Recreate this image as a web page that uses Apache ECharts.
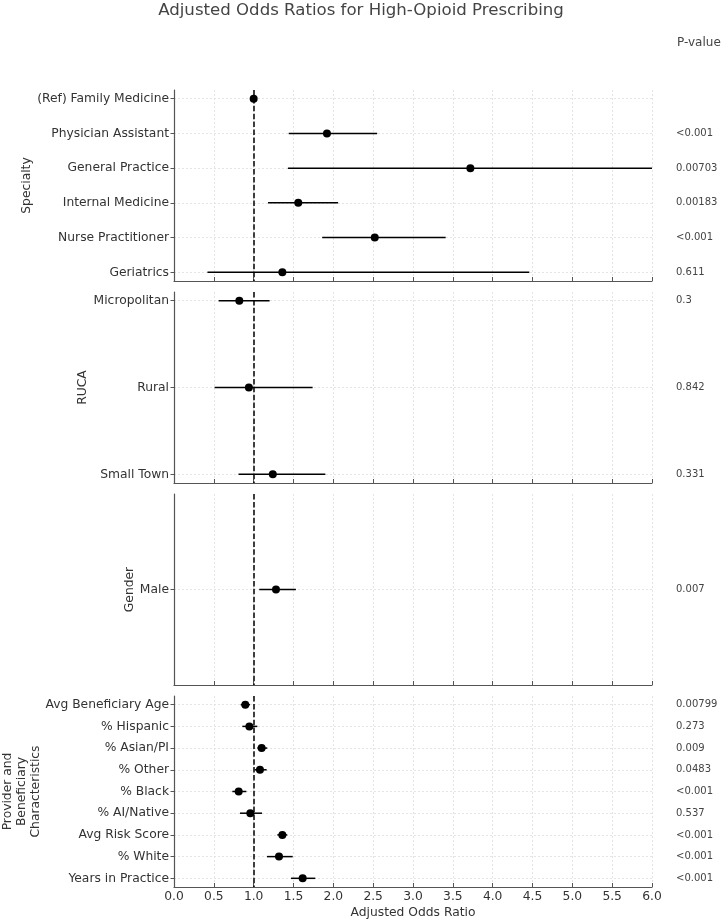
<!DOCTYPE html>
<html>
<head>
<meta charset="utf-8">
<script src="https://cdn.jsdelivr.net/npm/echarts@6/dist/echarts.min.js"></script>
<style>
  html, body { margin: 0; padding: 0; background: #fff; }
  #main { width: 722px; height: 920px; }
</style>
</head>
<body>
<div id="main"></div>
<script>
// panel 1 - specialty
const specialtyCats = ['(Ref) Family Medicine', 'Physician Assistant', 'General Practice', 'Internal Medicine', 'Nurse Practitioner', 'Geriatrics'];
const specialtyOR = [1.0, 1.92, 3.72, 1.56, 2.52, 1.36];
const specialtyLo = [1.0, 1.44, 1.43, 1.18, 1.86, 0.42];
const specialtyHi = [1.0, 2.55, 6.0, 2.06, 3.41, 4.46];
const specialtyP = ['', '<0.001', '0.00703', '0.00183', '<0.001', '0.611'];

// panel 2 - RUCA
const rucaCats = ['Micropolitan', 'Rural', 'Small Town'];
const rucaOR = [0.82, 0.94, 1.24];
const rucaLo = [0.56, 0.51, 0.81];
const rucaHi = [1.20, 1.74, 1.90];
const rucaP = ['0.3', '0.842', '0.331'];

// panel 3 - gender
const genderCats = ['Male'];
const genderOR = [1.28];
const genderLo = [1.07];
const genderHi = [1.53];
const genderP = ['0.007'];

// panel 4 - provider and beneficiary
const provCats = ['Avg Beneficiary Age', '% Hispanic', '% Asian/PI', '% Other', '% Black', '% AI/Native', 'Avg Risk Score', '% White', 'Years in Practice'];
const provOR = [0.895, 0.946, 1.10, 1.079, 0.812, 0.958, 1.36, 1.318, 1.615];
const provLo = [0.837, 0.858, 1.046, 1.013, 0.732, 0.828, 1.297, 1.167, 1.469];
const provHi = [0.954, 1.046, 1.171, 1.163, 0.908, 1.105, 1.422, 1.49, 1.774];
const provP = ['0.00799', '0.273', '0.009', '0.0483', '<0.001', '0.537', '<0.001', '<0.001', '<0.001'];

const xTicks = [0, 6, 0.5]; // min, max, step

const panels = [
  { cats: specialtyCats, or: specialtyOR, lo: specialtyLo, hi: specialtyHi, p: specialtyP, name: 'Specialty', gap: 140 },
  { cats: rucaCats, or: rucaOR, lo: rucaLo, hi: rucaHi, p: rucaP, name: 'RUCA', gap: 84 },
  { cats: genderCats, or: genderOR, lo: genderLo, hi: genderHi, p: genderP, name: 'Gender', gap: 37 },
  { cats: provCats, or: provOR, lo: provLo, hi: provHi, p: provP, name: 'Provider and\nBeneficiary\nCharacteristics', gap: 131 }
];

const FONT = 'DejaVu Sans';
const LBL = 12.3;
const spine = '#555555';
const gridLine = { color: '#dddddd', type: [2, 2], width: 0.8 };
const panelTop = [90, 292, 494, 696];
const panelH = 191;

const grids = [], xAxes = [], yAxes = [], series = [];

panels.forEach(function (pn, k) {
  const n = pn.cats.length;
  const idx = pn.cats.map(function (c, i) { return i; });
  // 5% padding like the original plot
  const pad = n === 1 ? 1 : 0.05 * (n - 1);
  const ymin = -pad;
  const ymax = n - 1 + pad;

  grids.push({ left: 174, right: 70, top: panelTop[k], height: panelH, outerBoundsMode: 'none' });

  xAxes.push({
    gridIndex: k, type: 'value', min: xTicks[0], max: xTicks[1], interval: xTicks[2],
    axisLine: { show: true, onZero: false, lineStyle: { color: spine, width: 1.2 } },
    axisTick: { show: true, inside: true, length: 4, lineStyle: { color: spine } },
    axisLabel: { show: k === 3, color: '#333', fontSize: LBL, fontFamily: FONT, margin: 4,
      formatter: function (v) { return v.toFixed(1); } },
    splitLine: { show: true, lineStyle: gridLine },
    name: k === 3 ? 'Adjusted Odds Ratio' : '',
    nameLocation: 'middle', nameGap: 20, nameMoveOverlap: false,
    nameTextStyle: { color: '#333', fontSize: LBL, fontFamily: FONT }
  });

  // left axis: category names
  yAxes.push({
    gridIndex: k, type: 'value', inverse: true, min: ymin, max: ymax,
    axisLine: { show: true, onZero: false, lineStyle: { color: spine, width: 1.2 } },
    axisTick: { show: true, inside: false, length: 3.5, customValues: idx, lineStyle: { color: spine } },
    axisLabel: { customValues: idx, color: '#333', fontSize: LBL, fontFamily: FONT, margin: 5,
      formatter: function (v) { return pn.cats[Math.round(v)]; } },
    splitLine: { show: true, lineStyle: gridLine },
    name: pn.name, nameLocation: 'middle', nameGap: pn.gap, nameMoveOverlap: false,
    nameTextStyle: { color: '#333', fontSize: LBL, fontFamily: FONT, lineHeight: 14 }
  });

  // right axis: p-values
  yAxes.push({
    gridIndex: k, type: 'value', position: 'right', inverse: true, min: ymin, max: ymax,
    axisLine: { show: false }, axisTick: { show: false }, splitLine: { show: false },
    axisLabel: { customValues: idx, color: '#444', fontSize: 10, fontFamily: FONT, margin: 24,
      formatter: function (v) { return pn.p[Math.round(v)]; } }
  });

  series.push({
    type: 'custom', xAxisIndex: k, yAxisIndex: 2 * k,
    encode: { x: [0, 1], y: 2 },
    data: idx.map(function (i) { return [pn.lo[i], pn.hi[i], i]; }),
    renderItem: function (params, api) {
      const a = api.coord([api.value(0), api.value(2)]);
      const b = api.coord([api.value(1), api.value(2)]);
      return { type: 'line', shape: { x1: a[0], y1: a[1], x2: b[0], y2: b[1] },
        style: { stroke: '#000', lineWidth: 1.5 } };
    },
    z: 3
  });

  series.push({
    type: 'scatter', xAxisIndex: k, yAxisIndex: 2 * k,
    data: idx.map(function (i) { return [pn.or[i], i]; }),
    symbolSize: 8,
    itemStyle: { color: '#000', opacity: 1 },
    markLine: {
      silent: true, symbol: 'none', label: { show: false },
      lineStyle: { color: '#000', type: [5.5, 2.4], width: 1.5 },
      data: [{ xAxis: 1 }]
    },
    z: 4
  });
});

const chart = echarts.init(document.getElementById('main'), null, { renderer: 'canvas' });
chart.setOption({
  animation: false,
  backgroundColor: '#fff',
  title: [
    { text: 'Adjusted Odds Ratios for High-Opioid Prescribing', left: 'center', top: -3,
      textStyle: { color: '#444', fontSize: 16.6, fontWeight: 'normal', fontFamily: FONT } },
    { text: 'P-value', left: 677, top: 37, padding: 0,
      textStyle: { color: '#444', fontSize: 12, fontWeight: 'normal', fontFamily: FONT } }
  ],
  grid: grids,
  xAxis: xAxes,
  yAxis: yAxes,
  series: series
});
</script>
</body>
</html>
